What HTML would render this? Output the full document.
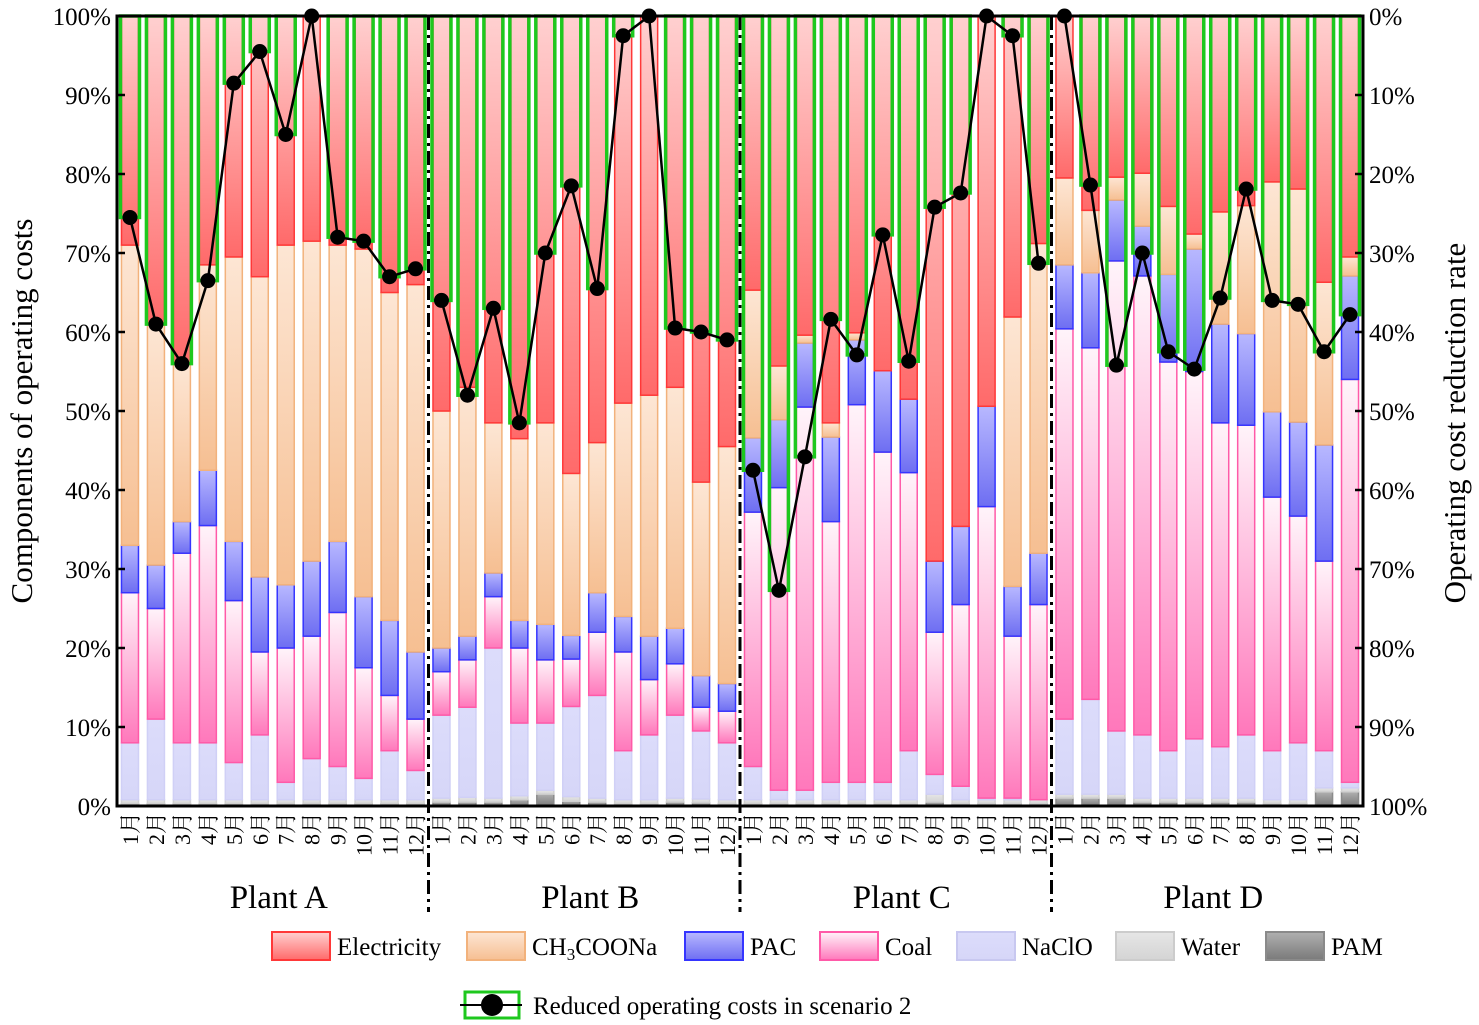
<!DOCTYPE html>
<html><head><meta charset="utf-8"><style>
body{margin:0;background:#fff}
svg{display:block}
svg text{font-family:"Liberation Serif","Noto Serif CJK SC",serif}
</style></head><body>
<svg id="chart" width="1479" height="1025" viewBox="0 0 1479 1025" xmlns="http://www.w3.org/2000/svg" font-family="Liberation Serif, Noto Serif CJK SC, serif">
<defs>
<linearGradient id="gElec" x1="0" y1="0" x2="0" y2="1"><stop offset="0" stop-color="#ffd0d0"/><stop offset="1" stop-color="#ff6a6a"/></linearGradient>
<linearGradient id="gCh3" x1="0" y1="0" x2="0" y2="1"><stop offset="0" stop-color="#fde6d4"/><stop offset="1" stop-color="#f6bf92"/></linearGradient>
<linearGradient id="gPac" x1="0" y1="0" x2="0" y2="1"><stop offset="0" stop-color="#b8b8ff"/><stop offset="1" stop-color="#6e6ef2"/></linearGradient>
<linearGradient id="gCoal" x1="0" y1="0" x2="0" y2="1"><stop offset="0" stop-color="#fff4fa"/><stop offset="1" stop-color="#ff78bb"/></linearGradient>
<linearGradient id="gNaclo" x1="0" y1="0" x2="0" y2="1"><stop offset="0" stop-color="#dcdcfb"/><stop offset="1" stop-color="#d6d6f8"/></linearGradient>
<linearGradient id="gWater" x1="0" y1="0" x2="0" y2="1"><stop offset="0" stop-color="#e6e6e6"/><stop offset="1" stop-color="#d4d4d4"/></linearGradient>
<linearGradient id="gPam" x1="0" y1="0" x2="0" y2="1"><stop offset="0" stop-color="#b0b0b0"/><stop offset="1" stop-color="#7a7a7a"/></linearGradient>
</defs>
<g id="bars"></g>
<g id="greens"></g>
<g id="line"></g>
<g id="axes"></g>
<g id="legend"></g>
</svg>
<script>
const plants = ["Plant A","Plant B","Plant C","Plant D"];
const months = ["1月","2月","3月","4月","5月","6月","7月","8月","9月","10月","11月","12月"];
const leftTicks = ["0%","10%","20%","30%","40%","50%","60%","70%","80%","90%","100%"];
const rightTicks = ["100%","90%","80%","70%","60%","50%","40%","30%","20%","10%","0%"];
const pam = [0.3,0.3,0.3,0.3,0.3,0.3,0.3,0.3,0.3,0.3,0.3,0.3, 0.5,0.5,0.5,0.8,1.5,0.6,0.5,0.3,0.3,0.5,0.4,0.3, 0.3,0.3,0.3,0.3,0.3,0.3,0.3,0.5,0.3,0.3,0.3,0.3, 1,1,1,0.5,0.5,0.5,0.5,0.5,0.3,0.3,1.8,1.8];
const water = [0.5,0.5,0.5,0.5,0.5,0.5,0.5,0.5,0.5,0.5,0.5,0.5, 0.5,0.6,0.5,0.5,0.5,0.6,0.5,0.5,0.5,0.5,0.5,0.5, 0.5,0.5,0.5,0.5,0.5,0.5,0.5,1.0,0.5,0.5,0.5,0.5, 0.5,0.5,0.5,0.5,0.5,0.5,0.5,0.5,0.5,0.5,0.5,0.5];
const naclo = [7.2,10.2,7.2,7.2,4.7,8.2,2.2,5.2,4.2,2.7,6.2,3.7, 10.5,11.4,19,9.2,8.5,11.4,13,6.2,8.2,10.5,8.6,7.2, 4.2,1.2,1.2,2.2,2.2,2.2,6.2,2.5,1.7,0.2,0.2,0, 9.5,12,8,8,6,7.5,6.5,8,6.2,7.2,4.7,0.7];
const coal = [19,14,24,27.5,20.5,10.5,17,15.5,19.5,14,7,6.5, 5.5,6,6.5,9.5,8,6,8,12.5,7,6.5,3,4, 32.2,38.3,48.5,33,47.8,41.8,35.2,18,23,36.9,20.5,24.7, 49.4,44.5,59.5,58.1,49.2,46.5,41,39.2,32.1,28.7,24,51];
const pac = [6,5.5,4,7,7.5,9.5,8,9.5,9,9,9.5,8.5, 3,3,3,3.5,4.5,3,5,4.5,5.5,4.5,4,3.5, 9.4,8.6,8.1,10.7,8.2,10.3,9.3,9,9.9,12.7,6.3,6.5, 8.1,9.5,7.7,6.3,11.1,15.5,12.5,11.6,10.8,11.9,14.7,13.1];
const ch3coona = [38,30.5,20,26,36,38,43,40.5,37.5,44,41.5,46.5, 30,31.5,19,23,25.5,20.5,19,27,30.5,30.5,24.5,30, 18.7,6.8,1,1.8,0.9,0,0,0,0,0,34.1,39.2, 11,7.9,2.9,6.7,8.6,1.9,14.2,16.2,29.1,29.5,20.6,2.4];
const electricity = [29,39,44,31.5,30.5,33,29,28.5,29,29.5,35,34, 50,47,51.5,53.5,51.5,58,54,49,48,47,59,54.5, 34.7,44.3,40.4,51.5,40.1,44.9,48.5,69,64.6,49.4,38.1,28.8, 20.5,24.6,20.4,19.9,24.1,27.6,24.8,24,21,21.9,33.7,30.5];
const reduction = [25.5,39,44,33.5,8.5,4.5,15,0,28,28.5,33,32, 36,48,37,51.5,30,21.5,34.5,2.5,0,39.5,40,41, 57.5,72.7,55.8,38.4,42.9,27.7,43.7,24.2,22.4,0,2.5,31.3, 0,21.4,44.2,30,42.5,44.7,35.7,21.9,36,36.5,42.5,37.8];

const NS="http://www.w3.org/2000/svg";
const FF="Liberation Serif, Noto Serif CJK SC, serif";
const X0=117,X1=1363,Y0=806,Y1=16,N=48,STEP=(X1-X0)/N,BW=17;
const yL=v=>Y0-(v/100)*(Y0-Y1);
const yR=v=>Y1+(v/100)*(Y0-Y1);
const xC=i=>X0+STEP*(i+0.5);
function mk(tag,attrs,parent){const e=document.createElementNS(NS,tag);for(const k in attrs)e.setAttribute(k,attrs[k]);if(tag==='text')e.setAttribute('font-family',FF);parent.appendChild(e);return e;}
const series=[
 {name:"PAM",data:pam,fill:"url(#gPam)",stroke:"#8a8a8a"},
 {name:"Water",data:water,fill:"url(#gWater)",stroke:"#d0d0d0"},
 {name:"NaClO",data:naclo,fill:"url(#gNaclo)",stroke:"#d0d0f6"},
 {name:"Coal",data:coal,fill:"url(#gCoal)",stroke:"#ff5aa8"},
 {name:"PAC",data:pac,fill:"url(#gPac)",stroke:"#3535ff"},
 {name:"CH3COONa",data:ch3coona,fill:"url(#gCh3)",stroke:"#f2b27c"},
 {name:"Electricity",data:electricity,fill:"url(#gElec)",stroke:"#ff3838"}
];
const bars=document.getElementById('bars');
for(let i=0;i<N;i++){
 let acc=0;
 series.forEach(s=>{
  const v=s.data[i];const yt=yL(acc+v),yb=yL(acc);acc+=v;
  if(v<=0)return;
  const r=mk('rect',{x:xC(i)-BW/2,y:yt,width:BW,height:yb-yt,fill:s.fill,stroke:s.stroke,'stroke-width':1.5},bars);
  
  
 });
}
const greens=document.getElementById('greens');
const line=document.getElementById('line');
let pts=[];
for(let i=0;i<N;i++){
 const yb=yR(reduction[i]);
 const g=mk('rect',{x:xC(i)-BW/2-1,y:Y1,width:BW+2,height:Math.max(0,yb-Y1),fill:"none",stroke:"#1ec81e",'stroke-width':3.5},greens);
 
 
 pts.push(xC(i)+','+yb);
}
for(let p=0;p<4;p++){
 const pl=mk('polyline',{points:pts.slice(p*12,p*12+12).join(' '),fill:"none",stroke:"#000",'stroke-width':2.5},line);
 
 
}
for(let i=0;i<N;i++){
 const c=mk('circle',{cx:xC(i),cy:yR(reduction[i]),r:7.5,fill:"#000"},line);
 
 
}
const axes=document.getElementById('axes');
const fr=mk('rect',{x:X0,y:Y1,width:X1-X0,height:Y0-Y1,fill:"none",stroke:"#000",'stroke-width':3},axes);


leftTicks.forEach((t,k)=>{
 const y=yL(k*10);
 mk('line',{x1:X0,x2:X0+8,y1:y,y2:y,stroke:"#000",'stroke-width':2.5},axes);
 const tx=mk('text',{x:X0-6,y:y+9,'text-anchor':'end','font-size':25},axes);tx.textContent=t;
 
 
});
rightTicks.forEach((t,k)=>{
 const y=yR(100-k*10);
 mk('line',{x1:X1-8,x2:X1,y1:y,y2:y,stroke:"#000",'stroke-width':2.5},axes);
 const tx=mk('text',{x:X1+6,y:y+9,'text-anchor':'start','font-size':25},axes);tx.textContent=t;
 
 
});
for(let i=0;i<N;i++){
 const x=xC(i)+8,y=812;
 const tx=mk('text',{x:x,y:y,transform:`rotate(-90 ${x} ${y})`,'text-anchor':'end','font-size':22},axes);
 tx.textContent=months[i%12];
 
 
}
for(let p=1;p<4;p++){
 const x=X0+STEP*12*p;
 const d=mk('line',{x1:x,x2:x,y1:Y1,y2:912,stroke:"#000",'stroke-width':3,'stroke-dasharray':'14 5 3 5'},axes);
 
 
}
plants.forEach((p,k)=>{
 const tx=mk('text',{x:X0+STEP*12*(k+0.5)+6,y:908,'text-anchor':'middle','font-size':33},axes);tx.textContent=p;
 
 
});
const yl=mk('text',{x:32,y:411,transform:'rotate(-90 32 411)','text-anchor':'middle','font-size':31},axes);yl.textContent="Components of operating costs";


const yr=mk('text',{x:1465,y:423,transform:'rotate(-90 1465 423)','text-anchor':'middle','font-size':31},axes);yr.textContent="Operating cost reduction rate";


</script>
<script>
(function(){
const lg=document.getElementById('legend');
const items=[["Electricity","url(#gElec)","#ff3838",272],["CH3COONa","url(#gCh3)","#f2b27c",467],["PAC","url(#gPac)","#3535ff",685],["Coal","url(#gCoal)","#ff5aa8",820],["NaClO","url(#gNaclo)","#c8c8f0",957],["Water","url(#gWater)","#cccccc",1116],["PAM","url(#gPam)","#8a8a8a",1266]];
items.forEach(it=>{
 const g=document.createElementNS(NS,'g');lg.appendChild(g);
 
 
 mk('rect',{x:it[3],y:932,width:58,height:28,fill:it[1],stroke:it[2],'stroke-width':2},g);
 const t=mk('text',{x:it[3]+65,y:955,'font-size':25},g);
 if(it[0]==="CH3COONa"){t.innerHTML='CH<tspan baseline-shift="-30%" font-size="17">3</tspan>COONa';}
 else t.textContent=it[0];
});
const g=document.createElementNS(NS,'g');lg.appendChild(g);


mk('rect',{x:465,y:992,width:54,height:26,fill:"none",stroke:"#1ec81e",'stroke-width':3},g);
mk('line',{x1:460,x2:522,y1:1005,y2:1005,stroke:"#000",'stroke-width':2},g);
mk('circle',{cx:492,cy:1005,r:11,fill:"#000"},g);
const t=mk('text',{x:533,y:1014,'font-size':25},g);t.textContent="Reduced operating costs in scenario 2";
})();
</script>
</body></html>
